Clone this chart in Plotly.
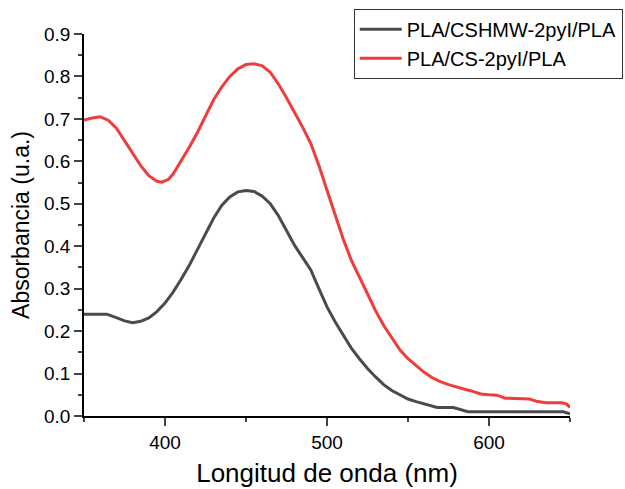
import plotly.graph_objects as go

wl_black = [350, 355, 360, 364, 370, 375, 380, 385, 390, 395, 400, 405, 410, 415, 420, 425,
            430, 435, 440, 445, 450, 455, 460, 465, 470, 475, 480, 485, 490, 495, 500, 505,
            510, 515, 520, 525, 530, 535, 540, 545, 550, 555, 560, 565, 568, 578, 587, 600,
            620, 640, 646, 650]
abs_black = [0.24, 0.24, 0.24, 0.24, 0.232, 0.224, 0.22, 0.223, 0.231, 0.246, 0.266, 0.292,
             0.322, 0.355, 0.392, 0.43, 0.466, 0.496, 0.516, 0.528, 0.531, 0.529, 0.518,
             0.5, 0.472, 0.437, 0.402, 0.373, 0.344, 0.30, 0.257, 0.222, 0.19, 0.16, 0.135,
             0.112, 0.092, 0.074, 0.06, 0.049, 0.04, 0.034, 0.028, 0.022, 0.02, 0.02, 0.01,
             0.01, 0.01, 0.01, 0.01, 0.005]

wl_red = [350, 355, 360, 365, 370, 375, 380, 385, 390, 395, 398, 402, 405, 410, 415, 420,
          425, 430, 435, 440, 445, 450, 455, 460, 465, 470, 475, 480, 485, 490, 495, 500,
          505, 510, 515, 520, 525, 530, 535, 540, 545, 550, 555, 560, 565, 570, 575, 580,
          585, 590, 595, 600, 605, 610, 615, 620, 625, 630, 635, 640, 645, 648, 650]
abs_red = [0.697, 0.702, 0.705, 0.697, 0.678, 0.648, 0.618, 0.59, 0.566, 0.553, 0.551,
           0.557, 0.57, 0.6, 0.633, 0.668, 0.708, 0.745, 0.775, 0.8, 0.818, 0.828, 0.83,
           0.825, 0.81, 0.782, 0.75, 0.716, 0.68, 0.642, 0.59, 0.532, 0.472, 0.417, 0.367,
           0.326, 0.286, 0.248, 0.213, 0.185, 0.156, 0.135, 0.118, 0.103, 0.09, 0.081,
           0.074, 0.068, 0.063, 0.058, 0.052, 0.05, 0.049, 0.042, 0.041, 0.041, 0.04,
           0.034, 0.031, 0.031, 0.031, 0.028, 0.02]

names = ["PLA/CSHMW-2pyI/PLA", "PLA/CS-2pyI/PLA"]
x_tickvals = [400, 500, 600]
y_tickvals = [0.0, 0.1, 0.2, 0.3, 0.4, 0.5, 0.6, 0.7, 0.8, 0.9]

fig = go.Figure()
fig.add_trace(go.Scatter(x=wl_black, y=abs_black, mode="lines", name=names[0],
                         line=dict(color="#4B4B4B", width=3)))
fig.add_trace(go.Scatter(x=wl_red, y=abs_red, mode="lines", name=names[1],
                         line=dict(color="#F03C3C", width=3)))

font = "Liberation Sans, Arial, sans-serif"
fig.update_layout(
    width=625, height=489,
    margin=dict(l=84, r=55, t=34, b=73, autoexpand=False),
    paper_bgcolor="white", plot_bgcolor="white",
    font=dict(family=font, color="black"),
    showlegend=True,
    legend=dict(xref="container", yref="container", x=0.566, y=0.982,
                xanchor="left", yanchor="top", itemwidth=42,
                bordercolor="#333333", borderwidth=1, bgcolor="white",
                font=dict(size=20, family=font), tracegroupgap=0),
    xaxis=dict(range=[350, 650], tickvals=x_tickvals, ticks="outside", ticklen=8,
               tickwidth=1.5, showline=True, linecolor="black", linewidth=1.5,
               showgrid=False, zeroline=False, tickfont=dict(size=19), automargin=False,
               minor=dict(ticks="outside", ticklen=4, tickwidth=1.5, dtick=50, tick0=350,
                          showgrid=False),
               title=dict(text="Longitud de onda (nm)", font=dict(size=26), standoff=12)),
    yaxis=dict(range=[0, 0.9], tickvals=y_tickvals, tickformat=".1f", ticks="outside",
               ticklen=8, tickwidth=1.5, showline=True, linecolor="black", linewidth=1.5,
               showgrid=False, zeroline=False, tickfont=dict(size=19), automargin=False,
               minor=dict(ticks="outside", ticklen=4, tickwidth=1.5, dtick=0.05, tick0=0,
                          showgrid=False),
               title=dict(text="Absorbancia (u.a.)", font=dict(size=23), standoff=8)),
)

fig.write_html("out.html")
